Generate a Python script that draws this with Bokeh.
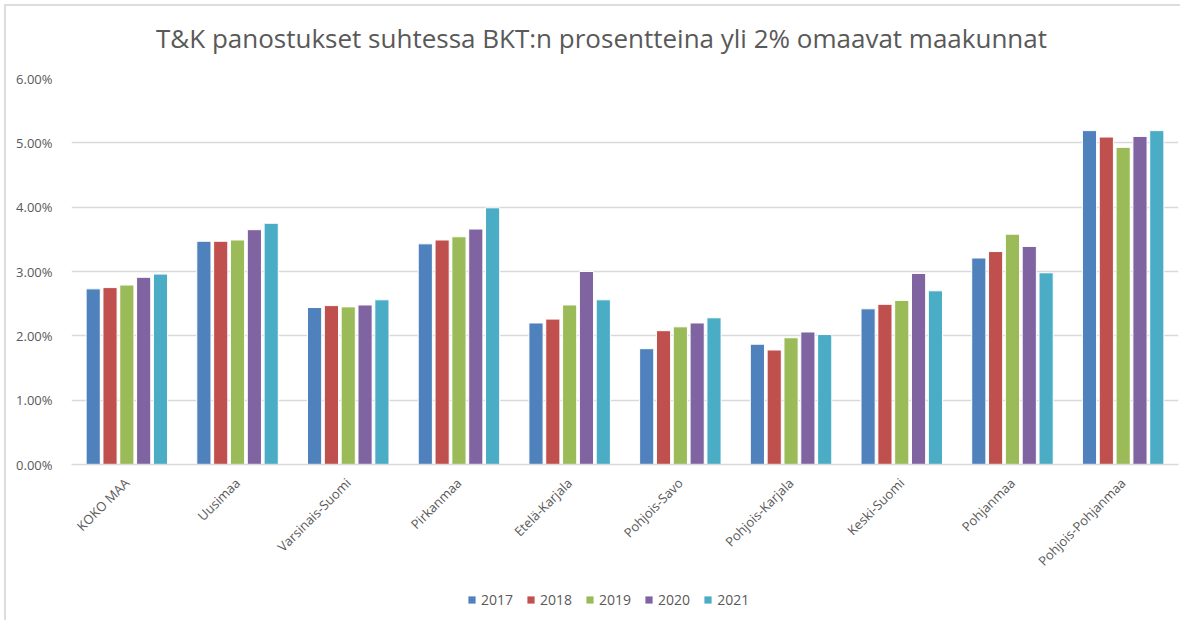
from bokeh.plotting import figure
from bokeh.layouts import column
from bokeh.models import (ColumnDataSource, FactorRange, Range1d, PrintfTickFormatter,
                          SingleIntervalTicker, Label, Legend, LegendItem)
from bokeh.transform import dodge
from bokeh.embed import file_html
from bokeh.resources import INLINE
import math

categories = ["KOKO MAA", "Uusimaa", "Varsinais-Suomi", "Pirkanmaa", "Etelä-Karjala",
              "Pohjois-Savo", "Pohjois-Karjala", "Keski-Suomi", "Pohjanmaa", "Pohjois-Pohjanmaa"]
years = ["2017", "2018", "2019", "2020", "2021"]
v2017 = [2.73, 3.47, 2.44, 3.43, 2.20, 1.80, 1.87, 2.42, 3.21, 5.19]
v2018 = [2.75, 3.47, 2.47, 3.49, 2.26, 2.08, 1.78, 2.49, 3.31, 5.09]
v2019 = [2.79, 3.49, 2.45, 3.54, 2.48, 2.14, 1.97, 2.55, 3.58, 4.93]
v2020 = [2.91, 3.65, 2.48, 3.66, 3.00, 2.20, 2.06, 2.97, 3.39, 5.10]
v2021 = [2.96, 3.75, 2.56, 3.99, 2.56, 2.28, 2.02, 2.70, 2.98, 5.19]
colors = ["#4F81BD", "#C0504D", "#9BBB59", "#8064A2", "#4BACC6"]
title_text = "T&K panostukset suhtessa BKT:n prosentteina yli 2% omaavat maakunnat"

src = ColumnDataSource(data=dict(cat=categories, y2017=v2017, y2018=v2018,
                                 y2019=v2019, y2020=v2020, y2021=v2021))

FONT = "Open Sans"
GREY = "#595959"


def strip(height):
    f = figure(width=1180, height=height, x_range=Range1d(0, 1), y_range=Range1d(0, 1),
               output_backend="svg", toolbar_location=None,
               min_border_left=0, min_border_right=0, min_border_top=0, min_border_bottom=0,
               x_axis_location=None, y_axis_location=None)
    f.outline_line_color = None
    f.xgrid.visible = False
    f.ygrid.visible = False
    f.border_fill_alpha = 0
    f.background_fill_alpha = 0
    return f


# title strip
tt = strip(58)
tt.add_layout(Label(x=530, y=21, x_units="screen", y_units="screen", text=title_text,
                    text_align="center", text_baseline="middle", text_font=FONT,
                    text_font_size="26px", text_color=GREY))

# main chart
p = figure(x_range=FactorRange(*categories), y_range=Range1d(0, 6),
           frame_width=1107, frame_height=386, output_backend="svg", toolbar_location=None,
           min_border_left=71, min_border_right=2, min_border_top=20, min_border_bottom=121)
p.outline_line_color = None
p.border_fill_alpha = 0
p.background_fill_alpha = 0

offsets = [-0.304, -0.152, 0.0, 0.152, 0.304]
for yr, off, col in zip(years, offsets, colors):
    p.vbar(x=dodge("cat", off, range=p.x_range), top="y" + yr, width=0.128,
           source=src, fill_color=col, line_color="white", line_width=1)

p.yaxis.ticker = SingleIntervalTicker(interval=1)
p.yaxis.formatter = PrintfTickFormatter(format="%.2f%%")
p.yaxis.axis_line_color = None
p.yaxis.major_tick_line_color = None
p.yaxis.minor_tick_line_color = None
p.yaxis.major_label_text_font = FONT
p.yaxis.major_label_text_font_size = "13px"
p.yaxis.major_label_text_color = GREY
p.yaxis.major_label_standoff = 13

p.xaxis.axis_line_color = "#D9D9D9"
p.xaxis.axis_line_width = 1.3
p.xaxis.major_tick_line_color = None
p.xaxis.minor_tick_line_color = None
p.xaxis.major_label_orientation = math.pi / 4
p.xaxis.major_label_text_font = FONT
p.xaxis.major_label_text_font_size = "13px"
p.xaxis.major_label_text_color = GREY
p.xaxis.major_label_standoff = 10

p.xgrid.grid_line_color = None
p.ygrid.grid_line_color = "#D9D9D9"
p.ygrid.grid_line_width = 1.3

# legend strip below the chart (stub renderers lie outside the visible range)
lg = strip(35)
items = []
for yr, col in zip(years, colors):
    r = lg.vbar(x=[-5], top=[-5], bottom=[-6], width=0.1, fill_color=col, line_color=None)
    items.append(LegendItem(label=yr, renderers=[r]))
legend = Legend(items=items, orientation="horizontal", location=(396, 11),
                glyph_width=9, glyph_height=9, label_text_font=FONT,
                label_text_font_size="14px", label_text_color=GREY,
                label_standoff=5, spacing=13, padding=0, margin=0,
                border_line_color=None, background_fill_alpha=0)
lg.add_layout(legend, "center")

layout = column(tt, p, lg, spacing=0, styles={
    "background": "linear-gradient(#DDDDDD,#DDDDDD) 4px 4px / 2px 100% no-repeat, "
                  "linear-gradient(#DDDDDD,#DDDDDD) 4px 4px / 100% 2px no-repeat, white"})
open("out.html", "w").write(file_html(layout, INLINE))
